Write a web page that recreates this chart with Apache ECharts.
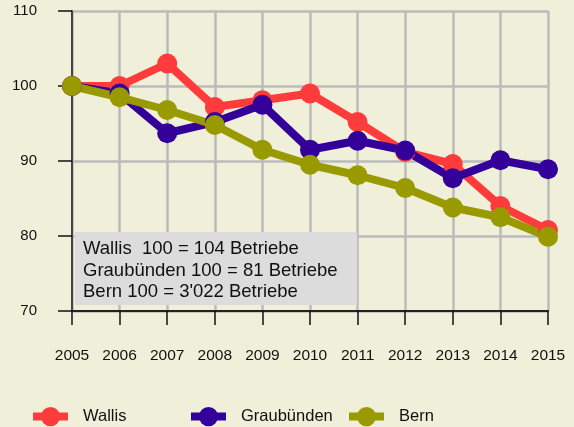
<!DOCTYPE html>
<html>
<head>
<meta charset="utf-8">
<script src="https://cdn.jsdelivr.net/npm/echarts@6/dist/echarts.min.js"></script>
<style>
  html, body { margin: 0; padding: 0; background: #f0efd9; }
  #chart { width: 574px; height: 427px; }
</style>
</head>
<body>
<div id="chart"></div>
<script>
const years = ["2005", "2006", "2007", "2008", "2009", "2010", "2011", "2012", "2013", "2014", "2015"];
const wallis = [100, 100, 103, 97.2, 98.1, 99, 95.2, 91.2, 89.6, 84, 80.8];
const graubuenden = [100, 99, 93.7, 95.2, 97.5, 91.5, 92.7, 91.4, 87.7, 90.1, 88.9];
const bern = [100, 98.5, 96.8, 94.8, 91.5, 89.5, 88.1, 86.4, 83.8, 82.5, 79.9];
const noteLines = ["Wallis  100 = 104 Betriebe", "Graubünden 100 = 81 Betriebe", "Bern 100 = 3'022 Betriebe"];

const colors = ["#ff3b3b", "#330099", "#999900"];
const font = "'Liberation Sans', Arial, sans-serif";

const chart = echarts.init(document.getElementById("chart"), null, { renderer: "canvas" });

function line(name, data, color) {
  return {
    name: name,
    type: "line",
    data: data,
    symbol: "circle",
    symbolSize: 20,
    itemStyle: { color: color },
    lineStyle: { color: color, width: 8 },
    z: 3,
  };
}

function legend(name, left) {
  return {
    data: [name],
    left: left,
    top: 407,
    padding: 0,
    itemWidth: 35,
    itemHeight: 24,
    lineStyle: { width: 8 },
    textStyle: { fontFamily: font, fontSize: 16.5, color: "#111", padding: [0, 0, 0, 10] },
  };
}

const option = {
  backgroundColor: "#f0efd9",
  animation: false,
  color: colors,
  grid: { left: 72, right: 26, top: 11, bottom: 116, containLabel: false },
  legend: [legend("Wallis", 29), legend("Graubünden", 187), legend("Bern", 345)],
  xAxis: {
    type: "category",
    boundaryGap: false,
    data: years,
    axisLine: { lineStyle: { color: "#222", width: 2 } },
    axisTick: { length: 14, lineStyle: { color: "#111", width: 1.5 } },
    axisLabel: { margin: 37, fontFamily: font, fontSize: 15.5, color: "#111" },
    splitLine: { show: true, lineStyle: { color: "#bbbbbb", width: 2.5 } },
  },
  yAxis: {
    type: "value",
    min: 70,
    max: 110,
    interval: 10,
    axisLine: { show: true, lineStyle: { color: "#444", width: 2 } },
    axisTick: { show: true, length: 14, lineStyle: { color: "#111", width: 1.5 } },
    axisLabel: { margin: 35, fontFamily: font, fontSize: 15, color: "#111" },
    splitLine: { show: true, lineStyle: { color: "#bbbbbb", width: 2.5 } },
  },
  graphic: [
    {
      type: "rect",
      z: 1,
      shape: { x: 75, y: 232, width: 282, height: 73 },
      style: { fill: "#dcdcdc" },
    },
    {
      type: "text",
      z: 2,
      left: 83,
      top: 238.5,
      style: {
        text: noteLines.join("\n"),
        fontFamily: font,
        fontSize: 18.5,
        lineHeight: 21.3,
        fill: "#111",
      },
    },
  ],
  series: [
    line("Wallis", wallis, colors[0]),
    line("Graubünden", graubuenden, colors[1]),
    line("Bern", bern, colors[2]),
  ],
};

chart.setOption(option);
</script>
</body>
</html>
